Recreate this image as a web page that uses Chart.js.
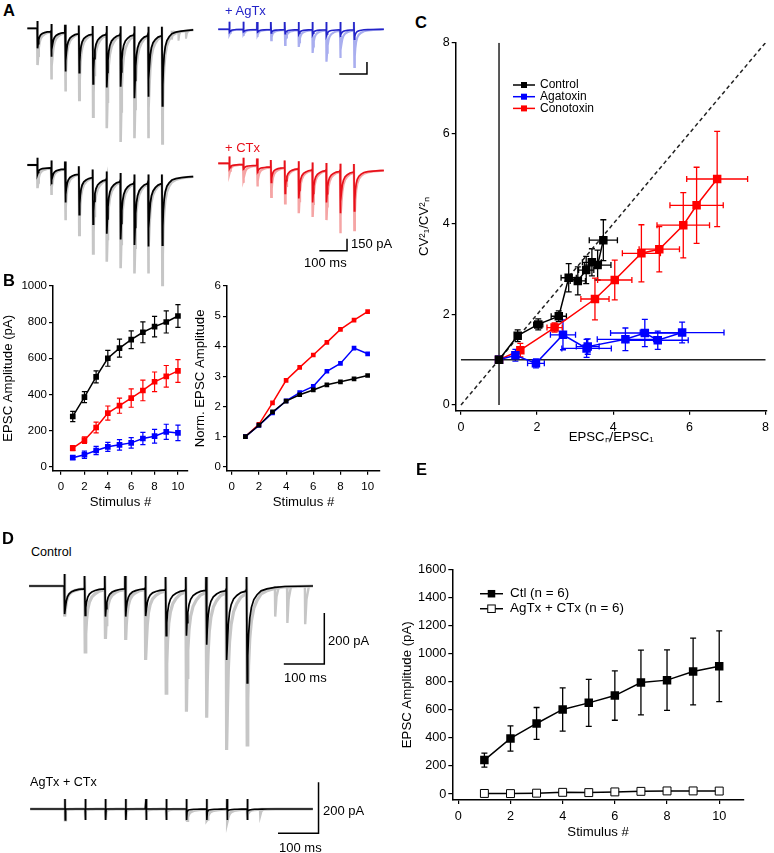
<!DOCTYPE html>
<html>
<head>
<meta charset="utf-8">
<script src="https://cdn.jsdelivr.net/npm/chart.js@4.4.1/dist/chart.umd.min.js"></script>
<style>
body { margin: 0; background: #fff; }
#fig { position: relative; width: 774px; height: 853px; overflow: hidden; font-family: Arial, "Liberation Sans", Helvetica, sans-serif; }
#fig canvas { position: absolute; }
.t { position: absolute; white-space: nowrap; line-height: 1; color: #000; }
</style>
</head>
<body>
<div id="fig"></div>
<script>
// ---------- data ----------
const stimNo = [1, 2, 3, 4, 5, 6, 7, 8, 9, 10];
const stimTicks = [0, 2, 4, 6, 8, 10];

// B (left): EPSC amplitude, pA, mean +/- SEM
const ctlAmp = [278, 385, 497, 600, 656, 703, 744, 775, 801, 834];
const ctlAmpSem = [28, 30, 33, 44, 50, 49, 58, 57, 61, 63];
const ctxAmp = [103, 147, 217, 297, 338, 380, 422, 470, 500, 530];
const ctxAmpSem = [14, 18, 30, 39, 42, 51, 57, 54, 60, 63];
const agaAmp = [50, 66, 90, 110, 121, 132, 156, 169, 193, 187];
const agaAmpSem = [10, 20, 23, 25, 29, 29, 34, 38, 42, 43];
const ampTicks = [0, 200, 400, 600, 800, 1000];

// B (right): normalized EPSC amplitude
const ctlNorm = [1, 1.38, 1.82, 2.18, 2.39, 2.55, 2.72, 2.82, 2.92, 3.03];
const agaNorm = [1, 1.37, 1.79, 2.19, 2.46, 2.67, 3.17, 3.43, 3.94, 3.75];
const ctxNorm = [1, 1.41, 2.12, 2.87, 3.30, 3.71, 4.13, 4.56, 4.87, 5.15];
const normTicks = [0, 1, 2, 3, 4, 5, 6];

// C: EPSCn/EPSC1 (x) vs CV1^2/CVn^2 (y), with errors
const ctlRatio = [1, 1.49, 2.03, 2.57, 2.83, 3.07, 3.29, 3.44, 3.59, 3.74];
const ctlRatioErr = [0, 0.08, 0.12, 0.2, 0.2, 0.2, 0.2, 0.25, 0.35, 0.37];
const ctlCV = [1, 1.53, 1.78, 1.96, 2.81, 2.74, 2.98, 3.15, 3.09, 3.64];
const ctlCVErr = [0, 0.13, 0.12, 0.12, 0.31, 0.31, 0.3, 0.3, 0.33, 0.45];
const agaRatio = [1, 1.43, 1.97, 2.68, 3.30, 3.33, 4.32, 4.83, 5.17, 5.81];
const agaRatioErr = [0, 0.06, 0.22, 0.33, 0.65, 0.3, 0.74, 0.9, 0.8, 1.1];
const agaCV = [1, 1.10, 0.92, 1.55, 1.25, 1.29, 1.45, 1.59, 1.43, 1.60];
const agaCVErr = [0, 0.13, 0.1, 0.33, 0.2, 0.17, 0.25, 0.3, 0.2, 0.23];
const ctxRatio = [1, 1.56, 2.46, 3.52, 4.04, 4.74, 5.21, 5.84, 6.19, 6.73];
const ctxRatioErr = [0, 0.06, 0.2, 0.37, 0.45, 0.5, 0.53, 0.69, 0.7, 0.8];
const ctxCV = [1, 1.21, 1.71, 2.34, 2.76, 3.35, 3.44, 3.97, 4.41, 4.99];
const ctxCVErr = [0, 0.15, 0.1, 0.46, 0.44, 0.63, 0.5, 0.72, 0.84, 1.05];
const cvTicks = [0, 2, 4, 6, 8];
const unityLine = [0, 8];

// E: EPSC amplitude, pA
const ctlE = [242, 396, 503, 603, 650, 702, 795, 812, 873, 911];
const ctlESem = [50, 90, 114, 154, 168, 176, 231, 216, 238, 252];
const blockE = [4, 3, 6, 12, 10, 15, 19, 22, 22, 21];
const eTicks = [0, 200, 400, 600, 800, 1000, 1200, 1400, 1600];

// Traces (A, D): 20 Hz train, ms; levels and peaks in pA
const stimTimes = [0, 50, 100, 150, 200, 250, 300, 350, 400, 450];
const decayMs = [1.6, 3, 5, 8, 12, 18, 26, 36, 48];
const decayFrac = [1, 0.72, 0.5, 0.33, 0.22, 0.14, 0.09, 0.05, 0.03];
const tailMs = [1.6, 3, 5, 8, 12, 18, 26, 36, 50, 70, 95];
const tailFrac = [1, 0.72, 0.5, 0.33, 0.22, 0.14, 0.09, 0.05, 0.03, 0.015, 0.005];

const a1Level = [0, -35, -45, -55, -60, -60, -65, -65, -70, -70];
const a1Mean = [-250, -355, -540, -555, -695, -740, -730, -875, -855, -970];
const a1Trial = [-460, -640, -790, -895, -1105, -1250, -1420, -1375, -1375, -1440];
const a1SpontT = [485, 509, 536];
const a1SpontAmp = [-110, -125, -100];

const agLevel = [0, 0, -3, -3, -5, -5, -5, -5, -5, -5];
const agMean = [-35, -40, -45, -45, -55, -60, -65, -80, -95, -125];
const agTrial = [-60, -85, -95, -135, -195, -220, -295, -405, -360, -470];

const a2Level = [0, -35, -45, -105, -145, -170, -190, -210, -210, -210];
const a2Mean = [-115, -240, -470, -620, -740, -860, -930, -1000, -1020, -1000];
const a2Trial = [-290, -375, -690, -875, -1105, -1210, -1290, -1355, -1355, -1500];

const ctLevel = [0, -15, -25, -45, -50, -60, -75, -80, -90, -95];
const ctMean = [-65, -85, -125, -240, -375, -440, -490, -490, -625, -595];
const ctTrial = [-120, -245, -290, -420, -500, -625, -670, -710, -875, -835];

const dLevel = [0, -8, -8, -8, -8, -12, -12, -12, -12, -12];
const dMean = [-110, -115, -120, -120, -118, -195, -195, -230, -290, -380];
const dTrial = [-120, -258, -208, -212, -290, -420, -493, -517, -643, -623];
const dSpontT = [520, 550, 594];
const dSpontAmp = [-120, -145, -150];

const bLevel = [0, 0, 0, 0, 0, 0, 0, 0, 0, 0];
const bMean = [0, 0, 0, 0, 0, 0, -8, -8, -8, -8];
const bTrial = [-5, -5, -5, -5, -8, -10, -45, -40, -45, -20];
const bSpontT = [481];
const bSpontAmp = [-30];

// ---------- helpers ----------
const FONT = 'Arial, "Liberation Sans", Helvetica, sans-serif';
Chart.defaults.font.family = FONT;
Chart.defaults.color = '#000';
const RED = '#ff0000', BLUE = '#0000ff';
const GREY = '#c6c6c6';
const fig = document.getElementById('fig');

function place(box) {
    const c = document.createElement('canvas');
    c.width = box.w; c.height = box.h;
    c.style.left = box.left + 'px';
    c.style.top = box.top + 'px';
    c.style.width = box.w + 'px';
    c.style.height = box.h + 'px';
    fig.appendChild(c);
    return c;
}

function txt(s, x, base, size, color, bold) {
    const d = document.createElement('div');
    d.className = 't';
    d.textContent = s;
    d.style.left = x + 'px';
    d.style.top = (base - 0.8465 * size) + 'px';
    d.style.fontSize = size + 'px';
    if (color) d.style.color = color;
    if (bold) d.style.fontWeight = 'bold';
    fig.appendChild(d);
}

const pts = (xs, ys) => xs.map((x, i) => ({x, y: ys[i]}));

// error bars drawn under the series
const errorBars = {
    id: 'errorBars',
    beforeDatasetsDraw(chart) {
        const {ctx, scales: {x, y}} = chart;
        chart.data.datasets.forEach(ds => {
            if (!ds.errY && !ds.errX) return;
            ctx.save();
            ctx.strokeStyle = ds.borderColor;
            ctx.lineWidth = ds.errWidth || 1.2;
            const cap = ds.cap || 2.5;
            ds.data.forEach((p, i) => {
                const px = x.getPixelForValue(p.x), py = y.getPixelForValue(p.y);
                const ey = ds.errY ? ds.errY[i] : 0, ex = ds.errX ? ds.errX[i] : 0;
                ctx.beginPath();
                if (ey) {
                    const t = y.getPixelForValue(p.y + ey), b = y.getPixelForValue(p.y - ey);
                    ctx.moveTo(px, t); ctx.lineTo(px, b);
                    ctx.moveTo(px - cap, t); ctx.lineTo(px + cap, t);
                    ctx.moveTo(px - cap, b); ctx.lineTo(px + cap, b);
                }
                if (ex) {
                    const l = x.getPixelForValue(p.x - ex), r = x.getPixelForValue(p.x + ex);
                    ctx.moveTo(l, py); ctx.lineTo(r, py);
                    ctx.moveTo(l, py - cap); ctx.lineTo(l, py + cap);
                    ctx.moveTo(r, py - cap); ctx.lineTo(r, py + cap);
                }
                ctx.stroke();
            });
            ctx.restore();
        });
    }
};

// legend with line + square symbol
const key = {
    id: 'key',
    afterDatasetsDraw(chart, args, o) {
        if (!o || !o.items) return;
        const {ctx, chartArea} = chart;
        ctx.save();
        ctx.font = o.size + 'px ' + FONT;
        ctx.textBaseline = 'middle';
        o.items.forEach((it, i) => {
            const x0 = chartArea.left + o.left, y0 = chartArea.top + o.top + i * o.dy;
            ctx.strokeStyle = it.color;
            ctx.lineWidth = 1.5;
            ctx.beginPath(); ctx.moveTo(x0, y0); ctx.lineTo(x0 + o.len, y0); ctx.stroke();
            const cx = x0 + o.len / 2, s = o.box;
            ctx.fillStyle = it.fill;
            ctx.fillRect(cx - s / 2, y0 - s / 2, s, s);
            if (it.fill === '#fff') { ctx.lineWidth = 1; ctx.strokeRect(cx - s / 2, y0 - s / 2, s, s); }
            ctx.fillStyle = '#000';
            ctx.fillText(it.label, x0 + o.len + o.gap, y0);
        });
        ctx.restore();
    }
};
Chart.register(errorBars, key);

function plotChart(box, area, xs, ys, datasets, legend) {
    const c = place(box);
    const axis = (s, horiz) => ({
        type: 'linear', min: s.min, max: s.max,
        afterBuildTicks: sc => { sc.ticks = s.ticks.map(v => ({value: v})); },
        afterFit: sc => {
            if (horiz) sc.height = box.top + box.h - area.b;
            else sc.width = area.l - box.left;
        },
        grid: {drawOnChartArea: false, tickLength: 4, color: '#000', lineWidth: 1.2},
        border: {color: '#000', width: 1.5},
        ticks: {font: {size: s.size}, padding: horiz ? 5 : 2, color: '#000', callback: v => String(v), maxRotation: 0, autoSkip: false},
        title: {display: true, text: s.title, font: {size: 13.2}, padding: 0, color: '#000'}
    });
    return new Chart(c, {
        type: 'line',
        data: {datasets},
        options: {
            responsive: false, animation: false, events: [],
            layout: {padding: {top: area.t - box.top, right: box.left + box.w - area.r, left: 0, bottom: 0}},
            scales: {x: axis(xs, true), y: axis(ys, false)},
            plugins: {legend: {display: false}, tooltip: {enabled: false}, key: legend || {}}
        }
    });
}

function series(data, color, r, extra) {
    return Object.assign({
        data, borderColor: color, borderWidth: 1.5, tension: 0,
        pointStyle: 'rect', pointRadius: r, pointBackgroundColor: color,
        pointBorderColor: color, pointBorderWidth: 0
    }, extra || {});
}

function trace(level, peaks, o) {
    const p = [{x: o.start, y: 0}];
    const n = stimTimes.length;
    stimTimes.forEach((t, i) => {
        const lvl = level[i];
        const next = i < n - 1 ? level[i + 1] : o.end;
        const ms = i < n - 1 ? decayMs : tailMs;
        const fr = i < n - 1 ? decayFrac : tailFrac;
        p.push({x: t - 0.3, y: lvl}, {x: t, y: lvl + o.artUp});
        if (o.artDown) p.push({x: t + 0.6, y: lvl + o.artDown});
        ms.forEach((dt, k) => {
            if (t + dt < o.stop) p.push({x: t + dt, y: next + (peaks[i] - next) * fr[k]});
        });
    });
    p.push({x: o.stop, y: o.end});
    return p;
}

function spont(times, amps, base) {
    const p = [];
    times.forEach((t, i) => {
        p.push({x: t, y: base}, {x: t + 0.8, y: base + amps[i]}, {x: t + 4, y: base + amps[i] * 0.35},
               {x: t + 10, y: base}, {x: t + 10.1, y: null});
    });
    return p;
}

const bar = (x0, y0, ms, pA) => [{x: x0, y: y0}, {x: x0 + ms, y: y0}, {x: x0 + ms, y: y0 + pA}];
const line = (data, color, w) => ({data, borderColor: color, borderWidth: w, pointRadius: 0, tension: 0, fill: false});

function traceChart(box, org, pxX, pxY, datasets) {
    const c = place(box);
    const xmin = (box.left - org.x) / pxX, ymax = (org.y - box.top) / pxY;
    return new Chart(c, {
        type: 'line',
        data: {datasets},
        options: {
            responsive: false, animation: false, events: [],
            layout: {padding: 0},
            scales: {
                x: {type: 'linear', display: false, min: xmin, max: xmin + box.w / pxX},
                y: {display: false, min: ymax - box.h / pxY, max: ymax}
            },
            plugins: {legend: {display: false}, tooltip: {enabled: false}}
        }
    });
}

// ---------- A: example traces ----------
const pxA = 0.277, pyA = 0.08;
const optA1 = {start: -36, stop: 563, end: -20, artUp: 90};
traceChart({left: 20, top: 12, w: 180, h: 140}, {x: 37.3, y: 28.3}, pxA, pyA, [
    line(trace(a1Level, a1Mean, optA1), '#000', 1.8),
    line(trace(a1Level, a1Trial, optA1), GREY, 2.6),
    line(spont(a1SpontT, a1SpontAmp, -30), GREY, 2)
]);
const optA2 = {start: -36, stop: 563, end: -145, artUp: 90};
traceChart({left: 20, top: 150, w: 180, h: 142}, {x: 37.3, y: 165}, pxA, pyA, [
    line(trace(a2Level, a2Mean, optA2), '#000', 1.8),
    line(trace(a2Level, a2Trial, optA2), GREY, 2.6)
]);
const optAg = {start: -40, stop: 558, end: 0, artUp: 95};
traceChart({left: 210, top: 12, w: 180, h: 72}, {x: 229.3, y: 29.3}, pxA, pyA, [
    line(trace(agLevel, agMean, optAg), '#2323c8', 1.6),
    line(trace(agLevel, agTrial, optAg), '#a9aeef', 2.2),
    line(bar(397, -559, 100, 150), '#000', 1.5)
]);
const optCt = {start: -40, stop: 558, end: -90, artUp: 85};
traceChart({left: 210, top: 145, w: 180, h: 112}, {x: 229.3, y: 163.3}, pxA, pyA, [
    line(trace(ctLevel, ctMean, optCt), '#e8101a', 1.7),
    line(trace(ctLevel, ctTrial, optCt), '#f5a5a5', 2.4),
    line(bar(325, -1092, 100, 150), '#000', 1.5)
]);

// ---------- D: example traces ----------
const pxD = 0.405, pyD = 0.255;
const optD = {start: -87, stop: 614, end: 0, artUp: 47};
traceChart({left: 20, top: 565, w: 320, h: 195}, {x: 64.3, y: 586}, pxD, pyD, [
    line(trace(dLevel, dMean, optD), '#000', 1.7),
    line(trace(dLevel, dTrial, optD), GREY, 3.2),
    line(spont(dSpontT, dSpontAmp, 0), GREY, 2.4),
    line(bar(542, -306, 100, 200), '#000', 1.5)
]);
const optB = {start: -86, stop: 612, end: 0, artUp: 39, artDown: -43};
traceChart({left: 20, top: 778, w: 310, h: 60}, {x: 65, y: 809}, pxD, pyD, [
    line(trace(bLevel, bMean, optB), '#000', 1.6),
    line(trace(bLevel, bTrial, optB), GREY, 3),
    line(spont(bSpontT, bSpontAmp, 0), GREY, 2),
    line(bar(526, -95, 100, 200), '#000', 1.5)
]);

// ---------- B ----------
plotChart({left: 0, top: 276, w: 192, h: 234}, {l: 53, t: 286, r: 188, b: 470.7},
    {min: -0.69, max: 10.86, ticks: stimTicks, title: 'Stimulus #', size: 11.5},
    {min: -22, max: 1000, ticks: ampTicks, title: 'EPSC Amplitude (pA)', size: 11.5},
    [
        series(pts(stimNo, ctlAmp), '#000', 4, {errY: ctlAmpSem, cap: 2.6}),
        series(pts(stimNo, ctxAmp), RED, 4, {errY: ctxAmpSem, cap: 2.6}),
        series(pts(stimNo, agaAmp), BLUE, 4, {errY: agaAmpSem, cap: 2.6})
    ]);

plotChart({left: 192, top: 276, w: 194, h: 234}, {l: 227, t: 286, r: 380, b: 470.7},
    {min: -0.35, max: 10.91, ticks: stimTicks, title: 'Stimulus #', size: 11.5},
    {min: -0.13, max: 6, ticks: normTicks, title: 'Norm. EPSC Amplitude', size: 11.5},
    [
        series(pts(stimNo, ctlNorm), '#000', 3.3),
        series(pts(stimNo, agaNorm), BLUE, 3.3),
        series(pts(stimNo, ctxNorm), RED, 3.3)
    ]);

// ---------- C ----------
plotChart({left: 416, top: 32, w: 358, h: 413}, {l: 455.7, t: 42.7, r: 770, b: 410.7},
    {min: -0.138, max: 8.03, ticks: cvTicks, title: 'EPSCₙ/EPSC₁', size: 12.5},
    {min: -0.126, max: 8, ticks: cvTicks, title: 'CV²₁/CV²ₙ', size: 12.5},
    [
        series(pts(ctlRatio, ctlCV), '#000', 6, {errX: ctlRatioErr, errY: ctlCVErr, cap: 3, errWidth: 1.3}),
        series(pts(agaRatio, agaCV), BLUE, 6, {errX: agaRatioErr, errY: agaCVErr, cap: 3, errWidth: 1.3}),
        series(pts(ctxRatio, ctxCV), RED, 6, {errX: ctxRatioErr, errY: ctxCVErr, cap: 3, errWidth: 1.3}),
        line([{x: 1, y: unityLine[0]}, {x: 1, y: unityLine[1]}], '#222', 1.5),
        line([{x: unityLine[0], y: 1}, {x: unityLine[1], y: 1}], '#222', 1.5),
        Object.assign(line(pts(unityLine, unityLine), '#222', 1.5), {borderDash: [4, 3]})
    ],
    {items: [{label: 'Control', color: '#000', fill: '#000'},
             {label: 'Agatoxin', color: BLUE, fill: BLUE},
             {label: 'Conotoxin', color: RED, fill: RED}],
     left: 57.3, top: 42.3, dy: 11.7, len: 22, box: 6, gap: 5, size: 12});

// ---------- E ----------
plotChart({left: 399, top: 560, w: 375, h: 280}, {l: 452.3, t: 569.2, r: 744, b: 800},
    {min: -0.23, max: 10.95, ticks: stimTicks, title: 'Stimulus #', size: 12.7},
    {min: -42.7, max: 1600, ticks: eTicks, title: 'EPSC Amplitude (pA)', size: 12.7},
    [
        series(pts(stimNo, ctlE), '#000', 6, {errY: ctlESem, cap: 3, errWidth: 1.3}),
        series(pts(stimNo, blockE), '#000', 5.6, {pointBackgroundColor: '#fff', pointBorderWidth: 1})
    ],
    {items: [{label: 'Ctl (n = 6)', color: '#000', fill: '#000'},
             {label: 'AgTx + CTx (n = 6)', color: '#000', fill: '#fff'}],
     left: 27.7, top: 24.1, dy: 15, len: 23, box: 7.5, gap: 7, size: 13.4});

// ---------- text ----------
txt('A', 3, 15.5, 16.5, null, true);
txt('B', 3, 286, 16.5, null, true);
txt('C', 415, 27.5, 16.5, null, true);
txt('D', 2, 544, 16.5, null, true);
txt('E', 416, 475, 16.5, null, true);
txt('+ AgTx', 225, 15, 13, '#2323c8');
txt('+ CTx', 225, 152, 13, '#e8101a');
txt('150 pA', 351, 248, 13);
txt('100 ms', 304, 267, 13);
txt('Control', 31, 557, 12.6);
txt('200 pA', 328, 645, 13);
txt('100 ms', 284, 682, 13);
txt('AgTx + CTx', 30, 787, 12.6);
txt('200 pA', 323, 815, 13);
txt('100 ms', 279, 852, 13);
</script>
</body>
</html>
